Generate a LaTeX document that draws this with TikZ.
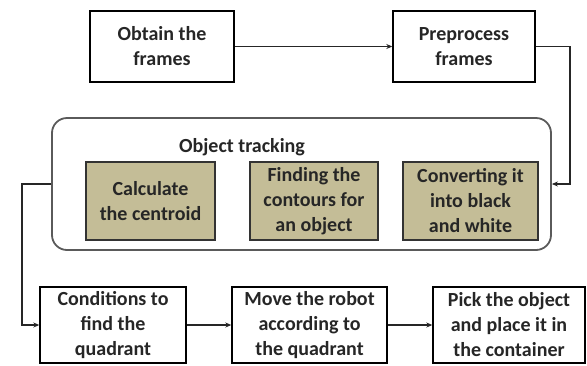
\documentclass[tikz,border=0pt]{standalone}
\usepackage{fontspec}
\setmainfont{Carlito}
\usetikzlibrary{arrows.meta}
\definecolor{tan}{RGB}{196,189,151}
\definecolor{frame}{RGB}{90,90,90}
\begin{document}
\begin{tikzpicture}[x=1pt,y=-1pt,
  box/.style={draw=black, line width=1.4pt, fill=white, align=center, inner sep=2pt,
    font=\bfseries\fontsize{20}{25}\selectfont, text=black!85},
  tanbox/.style={box, fill=tan, draw=black!80},
  conn/.style={line width=1.2pt, draw=black!85},
  arr/.style={conn, -{Stealth[length=6pt,width=5pt]}}]
\useasboundingbox (0,0) rectangle (587,365);
\fill[white] (0,0) rectangle (587,365);
% top row
\node[box, minimum width=144pt, minimum height=71pt] (obtain) at (162,46.5) {Obtain the\\frames};
\node[box, minimum width=142pt, minimum height=71pt] (prep) at (464,46.5) {Preprocess\\frames};
% object tracking group
\node[draw=frame, line width=1.8pt, rounded corners=15pt, minimum width=499pt, minimum height=132pt] (track) at (301.5,184) {};
\node[font=\bfseries\fontsize{20}{25}\selectfont, text=black!85] (tracklbl) at (242,147) {Object tracking};
\node[tanbox, minimum width=129pt, minimum height=78pt] (centroid) at (150.5,201) {Calculate\\the centroid};
\node[tanbox, minimum width=128pt, minimum height=78pt] (contours) at (314,201) {Finding the\\contours for\\an object};
\node[tanbox, minimum width=135pt, minimum height=78pt] (convert) at (470.5,201) {Converting it\\into black\\and white};
% bottom row
\node[box, minimum width=146pt, minimum height=76pt] (cond) at (113,325) {Conditions to\\find the\\quadrant};
\node[box, minimum width=155pt, minimum height=76pt] (move) at (309.5,325) {Move the robot\\according to\\the quadrant};
\node[box, minimum width=152pt, minimum height=76pt] (pick) at (509,325) {Pick the object\\and place it in\\the container};
% connectors
\coordinate (c1) at (570,46.5);
\coordinate (c2) at (570,184);
\coordinate (c3) at (22,184);
\coordinate (c4) at (22,325);
\draw[arr] (obtain.east) -- (prep.west);
\draw[arr] (prep.east) -- (c1) -- (c2) -- (track.east);
\draw[arr] (track.west) -- (c3) -- (c4) -- (cond.west);
\draw[arr] (cond.east) -- (move.west);
\draw[arr] (move.east) -- (pick.west);
\end{tikzpicture}
\end{document}
